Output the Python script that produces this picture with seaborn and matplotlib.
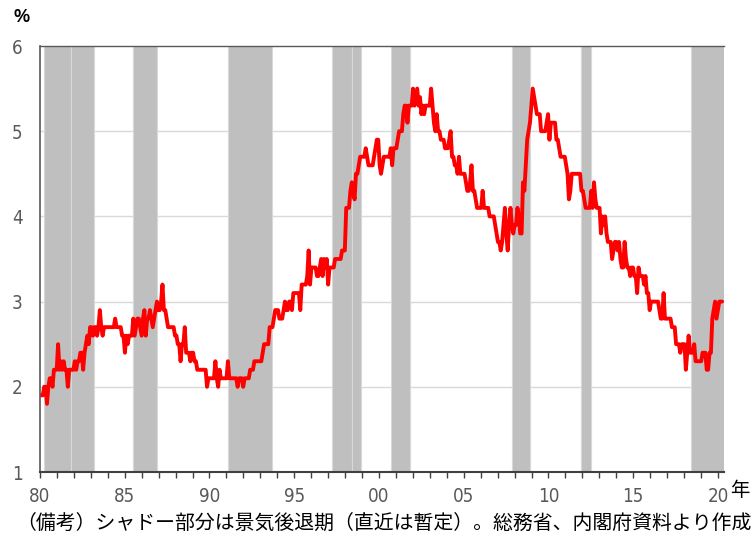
import numpy as np
import pandas as pd
import matplotlib
matplotlib.use("Agg")
import matplotlib.pyplot as plt
from matplotlib.ticker import FixedLocator
from matplotlib import font_manager
import seaborn as sns

# Monthly unemployment rate (%), Jan of the first year onward
rate_1980s = [
    1.9, 1.9, 1.9, 2.0, 2.0, 1.8, 2.0, 2.1, 2.1, 2.0, 2.2, 2.2,
    2.2, 2.5, 2.2, 2.3, 2.2, 2.3, 2.2, 2.2, 2.0, 2.2, 2.2, 2.2,
    2.2, 2.3, 2.2, 2.3, 2.3, 2.4, 2.4, 2.2, 2.4, 2.5, 2.6, 2.5,
    2.7, 2.7, 2.6, 2.7, 2.7, 2.6, 2.7, 2.9, 2.7, 2.6, 2.7, 2.7,
    2.7, 2.7, 2.7, 2.7, 2.7, 2.7, 2.8, 2.7, 2.7, 2.7, 2.7, 2.6,
    2.6, 2.4, 2.6, 2.5, 2.6, 2.6, 2.6, 2.8, 2.6, 2.7, 2.8, 2.8,
    2.7, 2.6, 2.8, 2.9, 2.6, 2.8, 2.8, 2.9, 2.8, 2.7, 2.8, 2.9,
    3.0, 2.9, 2.9, 3.0, 3.2, 2.9, 2.9, 2.8, 2.7, 2.7, 2.7, 2.7,
    2.7, 2.6, 2.6, 2.5, 2.5, 2.3, 2.5, 2.5, 2.7, 2.4, 2.4, 2.4,
    2.3, 2.4, 2.4, 2.3, 2.3, 2.2, 2.2, 2.2, 2.2, 2.2, 2.2, 2.2,
]
rate_1990s = [
    2.0, 2.1, 2.1, 2.1, 2.1, 2.1, 2.3, 2.1, 2.0, 2.2, 2.1, 2.1,
    2.1, 2.1, 2.1, 2.3, 2.1, 2.1, 2.1, 2.1, 2.1, 2.1, 2.0, 2.1,
    2.1, 2.1, 2.0, 2.1, 2.1, 2.1, 2.1, 2.2, 2.2, 2.2, 2.3, 2.3,
    2.3, 2.3, 2.3, 2.3, 2.4, 2.5, 2.5, 2.5, 2.5, 2.7, 2.7, 2.7,
    2.8, 2.9, 2.9, 2.9, 2.8, 2.8, 2.8, 2.9, 3.0, 2.9, 2.9, 3.0,
    3.0, 2.9, 3.1, 3.1, 3.1, 3.1, 3.1, 2.9, 3.2, 3.2, 3.2, 3.2,
    3.3, 3.6, 3.2, 3.4, 3.4, 3.4, 3.4, 3.3, 3.3, 3.4, 3.5, 3.3,
    3.5, 3.4, 3.5, 3.2, 3.4, 3.4, 3.4, 3.4, 3.5, 3.5, 3.5, 3.5,
    3.5, 3.6, 3.6, 3.6, 4.1, 4.1, 4.1, 4.3, 4.4, 4.3, 4.2, 4.5,
    4.5, 4.6, 4.7, 4.7, 4.7, 4.7, 4.8, 4.7, 4.6, 4.6, 4.6, 4.6,
]
rate_2000s = [
    4.7, 4.8, 4.9, 4.9, 4.6, 4.5, 4.6, 4.7, 4.7, 4.7, 4.7, 4.7,
    4.8, 4.6, 4.8, 4.8, 4.8, 4.9, 5.0, 5.0, 5.0, 5.2, 5.3, 5.3,
    5.1, 5.3, 5.3, 5.3, 5.5, 5.3, 5.4, 5.5, 5.3, 5.4, 5.2, 5.3,
    5.2, 5.3, 5.3, 5.3, 5.3, 5.5, 5.3, 5.1, 5.0, 5.2, 5.0, 5.0,
    4.9, 4.9, 4.9, 4.8, 4.8, 4.8, 4.9, 5.0, 4.7, 4.7, 4.6, 4.6,
    4.5, 4.7, 4.5, 4.5, 4.5, 4.5, 4.4, 4.3, 4.3, 4.4, 4.6, 4.3,
    4.3, 4.2, 4.1, 4.1, 4.1, 4.1, 4.3, 4.1, 4.1, 4.1, 4.1, 4.0,
    4.0, 4.0, 4.0, 3.9, 3.8, 3.7, 3.7, 3.6, 3.7, 3.9, 4.1, 3.8,
    3.6, 3.9, 4.1, 3.9, 3.8, 3.9, 3.9, 4.1, 4.0, 3.8, 3.8, 4.4,
    4.3, 4.6, 4.9, 5.0, 5.1, 5.3, 5.5, 5.4, 5.3, 5.2, 5.2, 5.2,
]
rate_2010s = [
    5.0, 5.0, 5.0, 5.0, 5.1, 5.2, 4.9, 5.1, 5.1, 5.1, 5.1, 4.9,
    4.9, 4.8, 4.7, 4.7, 4.7, 4.7, 4.6, 4.5, 4.2, 4.3, 4.5, 4.5,
    4.5, 4.5, 4.5, 4.5, 4.5, 4.3, 4.3, 4.2, 4.1, 4.1, 4.1, 4.1,
    4.3, 4.1, 4.4, 4.2, 4.1, 4.1, 4.1, 3.8, 4.0, 3.9, 4.0, 3.8,
    3.7, 3.7, 3.7, 3.5, 3.6, 3.7, 3.7, 3.6, 3.7, 3.5, 3.4, 3.4,
    3.7, 3.5, 3.4, 3.4, 3.3, 3.4, 3.4, 3.3, 3.3, 3.1, 3.4, 3.3,
    3.3, 3.3, 3.2, 3.3, 3.1, 3.1, 2.9, 3.0, 3.0, 3.0, 3.0, 3.0,
    3.0, 2.9, 2.8, 2.8, 3.1, 2.8, 2.8, 2.8, 2.8, 2.8, 2.7, 2.7,
    2.7, 2.5, 2.5, 2.5, 2.4, 2.5, 2.5, 2.5, 2.2, 2.4, 2.6, 2.4,
    2.4, 2.4, 2.5, 2.3, 2.3, 2.3, 2.3, 2.3, 2.4, 2.4, 2.4, 2.2,
]
rate_2020 = [2.2, 2.4, 2.4, 2.8, 2.9, 3.0, 2.8, 2.9, 3.0, 3.0, 3.0]

start_year = 1980
# Shaded recession periods (decimal years, as drawn)
recession_start = [1980.22, 1981.87, 1985.57, 1991.25, 1997.50, 1998.70, 2001.01, 2008.27, 2012.39, 2018.95]
recession_end = [1981.87, 1983.21, 1987.00, 1993.87, 1998.70, 1999.20, 2002.15, 2009.33, 2013.00, 2021.00]

tick_years = list(range(1980, 2021))
x_label_years = [1980, 1985, 1990, 1995, 2000, 2005, 2010, 2015, 2020]
x_labels = ["80", "85", "90", "95", "00", "05", "10", "15", "20"]
y_ticks = [1, 2, 3, 4, 5, 6]
grid_levels = [2, 3, 4, 5]

values = rate_1980s + rate_1990s + rate_2000s + rate_2010s + rate_2020
df = pd.DataFrame({
    "t": start_year + np.arange(len(values)) / 12.0,
    "rate": values,
})

# In the source chart the year ticks are spaced a little wider than the
# monthly data (about 16.95 px per tick vs 16.7 px per 12 months).
TICK_STRETCH = 16.95 / 16.704


def tick_pos(y):
    return start_year + (y - start_year) * TICK_STRETCH


sns.set_theme(style="white")
plt.rcParams["font.family"] = ["DejaVu Sans"]

narrow = font_manager.FontProperties(family="DejaVu Sans", stretch="condensed", size=13.5)

W, H = 756, 540
fig = plt.figure(figsize=(W / 100, H / 100), dpi=100)
ax = fig.add_axes([40 / W, 1 - 472 / H, 684 / W, 426 / H])

for s, e in zip(recession_start, recession_end):
    ax.axvspan(s, e, facecolor="#bfbfbf", edgecolor="#d9d9d9", linewidth=0.8, zorder=1)
for g in grid_levels:
    ax.axhline(g, color="#d9d9d9", linewidth=1.0, zorder=0.5)

sns.lineplot(data=df, x="t", y="rate", color="#ff0000", linewidth=2.8, ax=ax, zorder=3)

ax.set_xlim(1980.0, 2020.95)
ax.set_ylim(1, 6)
ax.set_xlabel("")
ax.set_ylabel("")

ax.xaxis.set_major_locator(FixedLocator([tick_pos(y) for y in x_label_years]))
ax.xaxis.set_minor_locator(FixedLocator([tick_pos(y) for y in tick_years]))
ax.set_xticklabels(x_labels, fontproperties=narrow, color="#595959")
ax.set_yticks(y_ticks)
ax.set_yticklabels([str(v) for v in y_ticks], fontproperties=narrow, color="#595959")

ax.tick_params(axis="x", which="both", direction="out", length=4.5, width=1.0,
               color="#404040", bottom=True)
ax.tick_params(axis="x", which="major", pad=6)
ax.tick_params(axis="y", which="both", length=0, pad=12.5)

ax.spines["right"].set_visible(False)
ax.spines["top"].set_color("#595959")
ax.spines["top"].set_linewidth(1.0)
ax.spines["left"].set_color("#595959")
ax.spines["left"].set_linewidth(1.2)
ax.spines["bottom"].set_color("#404040")
ax.spines["bottom"].set_linewidth(1.5)
for sp in ax.spines.values():
    sp.set_zorder(4)

cjk = ["Noto Sans CJK JP", "DejaVu Sans"]
fig.text(22 / W, 1 - 18 / H, "%", ha="center", va="center", fontsize=13,
         fontweight="bold", color="#000000", family=["Liberation Sans", "DejaVu Sans"])
fig.text(740 / W, 1 - 491 / H, "年", ha="center", va="center", fontsize=14,
         color="#000000", family=cjk)
fig.text(384 / W, 1 - 523 / H, "（備考）シャドー部分は景気後退期（直近は暫定）。総務省、内閣府資料より作成",
         ha="center", va="center", fontsize=14.3, color="#000000", family=cjk)

fig.savefig("out.png", dpi=100)
